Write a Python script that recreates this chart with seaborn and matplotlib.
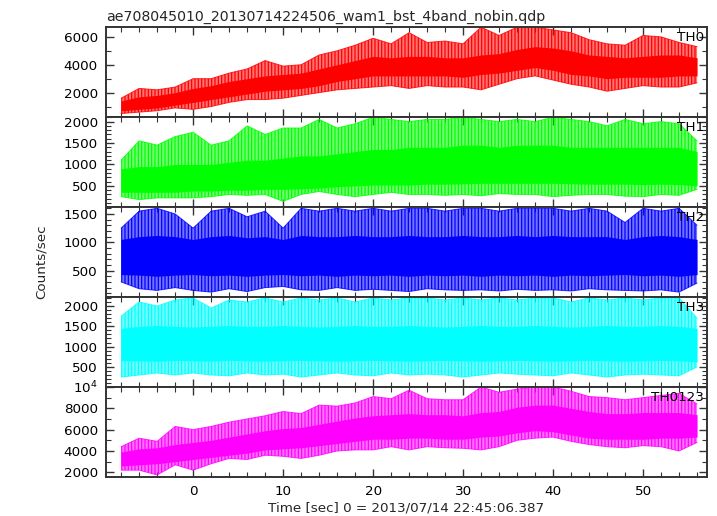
import matplotlib
matplotlib.use("Agg")
import matplotlib.pyplot as plt
from matplotlib.colors import to_rgba
from matplotlib.ticker import MultipleLocator, FuncFormatter
import seaborn as sns

# time grid of the read-off envelopes (sec)
TIME = [-8, -6, -4, -2, 0, 2, 4, 6, 8, 10, 12, 14, 16, 18, 20, 22, 24, 26, 28, 30,
        32, 34, 36, 38, 40, 42, 44, 46, 48, 50, 52, 54, 56]

# TH0 (red)
th0_hi = [1600, 2300, 2200, 2400, 3000, 3000, 3400, 3700, 4300, 3900, 4000, 4700, 5000, 5400, 5900, 5500, 6300,
          5600, 5700, 5500, 6700, 6100, 6700, 6700, 6500, 6300, 5800, 5500, 5400, 6100, 6000, 5600, 5300]
th0_core_hi = [1400, 1700, 1800, 2000, 2300, 2500, 2800, 3000, 3200, 3300, 3400, 3700, 4000, 4300, 4600, 4500, 4600,
               4600, 4500, 4500, 4700, 4800, 5100, 5300, 5200, 5000, 4700, 4600, 4500, 4600, 4700, 4700, 4500]
th0_core_lo = [700, 800, 900, 1100, 1300, 1500, 1700, 1900, 2100, 2200, 2300, 2500, 2800, 3000, 3200, 3200, 3200,
               3200, 3200, 3100, 3300, 3400, 3600, 3800, 3600, 3300, 3200, 3000, 3100, 3100, 3100, 3200, 3200]
th0_lo = [500, 600, 700, 900, 800, 1000, 1300, 1500, 1500, 1600, 1800, 2000, 2200, 2300, 2400, 2500, 2300,
          2500, 2400, 2400, 2200, 2600, 3000, 3200, 2900, 2600, 2400, 2100, 2300, 2500, 2400, 2400, 2700]

# TH1 (green)
th1_hi = [1100, 1550, 1450, 1650, 1750, 1450, 1550, 1900, 1700, 1850, 1850, 2050, 1850, 1950, 2100, 2050, 2000,
          2050, 2050, 2100, 2050, 2000, 2050, 2000, 2100, 2050, 2000, 1900, 2050, 1950, 2000, 1950, 1550]
th1_core_hi = [900, 950, 950, 1000, 1000, 1000, 1050, 1100, 1100, 1150, 1200, 1200, 1250, 1300, 1350, 1350, 1400,
               1400, 1400, 1450, 1450, 1400, 1450, 1450, 1450, 1400, 1400, 1400, 1400, 1400, 1400, 1400, 1300]
th1_core_lo = [350, 350, 350, 350, 380, 380, 400, 400, 420, 420, 430, 450, 480, 500, 520, 520, 520,
               540, 540, 550, 560, 560, 560, 560, 560, 550, 540, 540, 540, 530, 540, 530, 500]
th1_lo = [250, 180, 220, 220, 220, 250, 300, 280, 300, 140, 300, 370, 300, 250, 300, 350, 300,
          300, 280, 300, 270, 320, 300, 300, 250, 280, 300, 300, 260, 250, 300, 280, 420]

# TH2 (blue)
th2_hi = [1250, 1550, 1600, 1500, 1250, 1550, 1600, 1450, 1550, 1250, 1600, 1550, 1600, 1550, 1600, 1550, 1600,
          1600, 1550, 1600, 1600, 1550, 1600, 1600, 1600, 1550, 1600, 1550, 1350, 1600, 1550, 1600, 1300]
th2_core_hi = [1050, 1100, 1120, 1100, 1050, 1100, 1120, 1080, 1100, 1050, 1120, 1100, 1100, 1120, 1100, 1100, 1120,
               1100, 1100, 1120, 1100, 1100, 1120, 1100, 1120, 1100, 1100, 1100, 1050, 1100, 1120, 1100, 1050]
th2_core_lo = [430, 420, 400, 420, 430, 410, 420, 400, 420, 430, 410, 420, 400, 420, 410, 420, 400,
               420, 410, 420, 400, 420, 410, 420, 400, 420, 410, 420, 430, 410, 420, 400, 430]
th2_lo = [300, 180, 150, 200, 150, 120, 180, 130, 200, 220, 160, 150, 200, 150, 170, 150, 130,
          180, 160, 150, 160, 140, 170, 150, 160, 140, 180, 160, 150, 140, 160, 120, 280]

# TH3 (cyan)
th3_hi = [1750, 2100, 2000, 2150, 2200, 1950, 2150, 2100, 2200, 2100, 2200, 2150, 2200, 2100, 2200, 2150, 2200,
          2200, 2150, 2200, 2150, 2200, 2150, 2200, 2200, 2100, 2200, 2150, 2200, 2150, 2200, 2200, 1700]
th3_core_hi = [1450, 1500, 1520, 1500, 1480, 1500, 1520, 1500, 1500, 1520, 1500, 1480, 1500, 1520, 1500, 1500, 1520,
               1500, 1480, 1500, 1520, 1500, 1500, 1520, 1500, 1480, 1500, 1520, 1500, 1500, 1520, 1500, 1450]
th3_core_lo = [650, 650, 640, 660, 650, 640, 660, 650, 640, 650, 660, 650, 640, 650, 660, 650, 640,
               650, 660, 650, 640, 650, 660, 650, 640, 650, 660, 650, 640, 650, 660, 650, 620]
th3_lo = [250, 300, 350, 300, 350, 300, 280, 350, 300, 320, 250, 300, 350, 300, 280, 350, 300,
          320, 300, 250, 300, 350, 320, 300, 280, 350, 300, 250, 300, 320, 300, 280, 500]

# TH0123 (magenta)
sum_hi = [4400, 5200, 4900, 6300, 6000, 6300, 6700, 7000, 7300, 7700, 7500, 8300, 8200, 8500, 9100, 8900, 9700,
          8900, 8800, 8800, 10000, 9500, 9800, 10000, 10000, 9600, 9100, 9000, 8800, 9000, 9200, 9400, 8400]
sum_core_hi = [3900, 4200, 4300, 4600, 4800, 5000, 5300, 5600, 5900, 6100, 6200, 6500, 6800, 7100, 7300, 7400, 7500,
               7400, 7400, 7300, 7600, 7700, 8100, 8300, 8300, 8000, 7700, 7500, 7500, 7600, 7600, 7600, 7400]
sum_core_lo = [2600, 2700, 2800, 3000, 3200, 3400, 3600, 3800, 4100, 4200, 4300, 4500, 4700, 4900, 5100, 5100, 5200,
               5200, 5100, 5100, 5300, 5400, 5700, 5900, 5800, 5500, 5200, 5100, 5100, 5100, 5200, 5200, 5300]
sum_lo = [2200, 2200, 1750, 2700, 2200, 2800, 3300, 3200, 3600, 3500, 3300, 3600, 4000, 4100, 4100, 4400, 4100,
          4400, 4300, 4250, 4100, 4400, 5000, 5200, 5300, 4900, 4600, 4400, 4300, 4500, 4400, 4000, 4800]

PANEL_NAMES = ["TH0", "TH1", "TH2", "TH3", "TH0123"]
PANEL_COLORS = ["#ff0000", "#00ff00", "#0000ff", "#00ffff", "#ff00ff"]
PANEL_DATA = [
    (th0_lo, th0_core_lo, th0_core_hi, th0_hi),
    (th1_lo, th1_core_lo, th1_core_hi, th1_hi),
    (th2_lo, th2_core_lo, th2_core_hi, th2_hi),
    (th3_lo, th3_core_lo, th3_core_hi, th3_hi),
    (sum_lo, sum_core_lo, sum_core_hi, sum_hi),
]
Y_LIMITS = [(260, 6720), (10, 2110), (35, 1625), (5, 2225), (1560, 10000)]
Y_MAJOR = [2000, 500, 500, 500, 2000]
Y_MINOR = [1000, 100, 100, 100, 1000]

TITLE = "ae708045010_20130714224506_wam1_bst_4band_nobin.qdp"
XLABEL = "Time [sec] 0 = 2013/07/14 22:45:06.387"
YLABEL = "Counts/sec"
FS = 9.7


def fmt_counts(v, pos):
    if abs(v - 10000) < 1e-6:
        return "10$^4$"
    return f"{int(round(v))}"


sns.set_theme(style="ticks")
plt.rcParams["font.family"] = ["DejaVu Sans"]
plt.rcParams["mathtext.fontset"] = "dejavusans"
plt.rcParams["hatch.linewidth"] = 0.9

fig, axes = plt.subplots(5, 1, figsize=(7.17, 5.16), dpi=100, sharex=True,
                         gridspec_kw={"hspace": 0})
fig.subplots_adjust(left=0.148, right=0.986, top=0.948, bottom=0.0756)

for ax, name, color, data, ylim, ymaj, ymin in zip(axes, PANEL_NAMES, PANEL_COLORS, PANEL_DATA,
                                                  Y_LIMITS, Y_MAJOR, Y_MINOR):
    lo, core_lo, core_hi, hi = data
    # outer spiky envelope: pale fill with vertical strokes, then the dense core
    ax.fill_between(TIME, lo, hi, facecolor=to_rgba(color, 0.55), edgecolor=color,
                    hatch="|||||", lw=0)
    ax.fill_between(TIME, core_lo, core_hi, color=color, alpha=1.0, lw=0)
    sns.lineplot(x=TIME, y=hi, color=color, lw=0.7, alpha=0.8, ax=ax)
    sns.lineplot(x=TIME, y=lo, color=color, lw=0.7, alpha=0.8, ax=ax)

    ax.set_ylim(*ylim)
    ax.set_xlim(-9.67, 57.1)
    ax.yaxis.set_major_locator(MultipleLocator(ymaj))
    ax.yaxis.set_minor_locator(MultipleLocator(ymin))
    ax.yaxis.set_major_formatter(FuncFormatter(fmt_counts))
    ax.xaxis.set_major_locator(MultipleLocator(10))
    ax.xaxis.set_minor_locator(MultipleLocator(2))
    ax.tick_params(which="both", direction="in", top=True, right=True, colors="#333333",
                   labelcolor="black", labelsize=FS, pad=6)
    ax.tick_params(which="major", length=6, width=1.0)
    ax.tick_params(which="minor", length=3.5, width=0.8)
    for sp in ax.spines.values():
        sp.set_color("#333333")
        sp.set_linewidth(1.4)
    ax.set_ylabel("")
    ax.text(0.995, 0.955, name, transform=ax.transAxes, ha="right", va="top",
            fontsize=FS, color="black", zorder=5)

axes[0].set_title(TITLE, loc="left", fontsize=10.2, pad=4)
axes[-1].set_xlabel(XLABEL, fontsize=FS, labelpad=2)
fig.text(0.058, 0.492, YLABEL, rotation=90, ha="center", va="center", fontsize=FS)

fig.savefig("out.png", dpi=100)
